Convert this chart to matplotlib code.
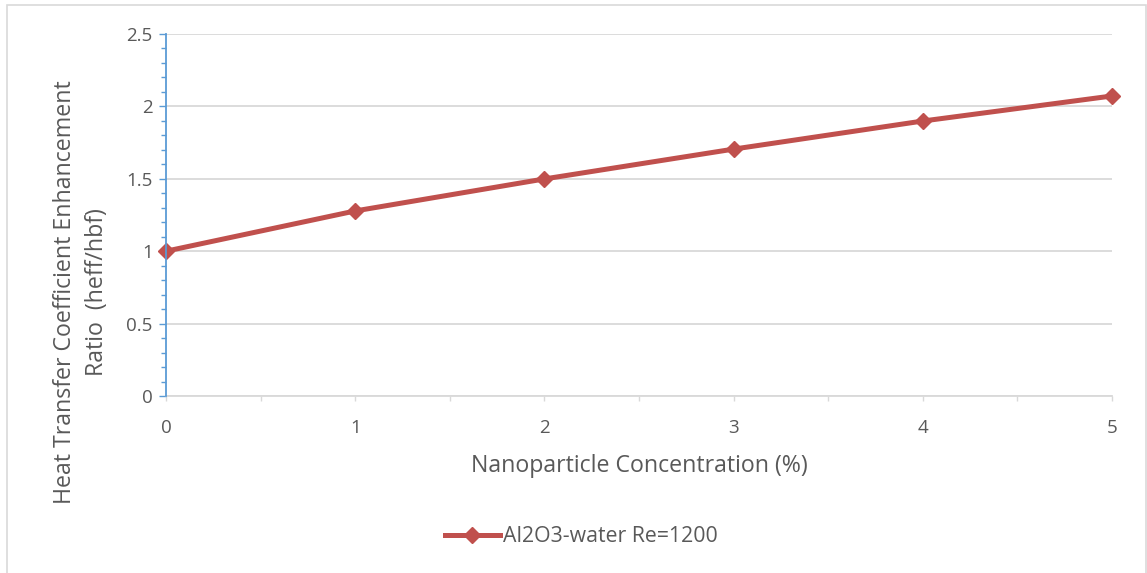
import matplotlib
matplotlib.use("Agg")
import matplotlib.pyplot as plt
from matplotlib.patches import Rectangle
from matplotlib.ticker import MultipleLocator, FuncFormatter

concentration = [0, 1, 2, 3, 4, 5]
ratio = [1.0, 1.278, 1.499, 1.705, 1.899, 2.072]
series_label = "Al2O3-water Re=1200"
xlabel = "Nanoparticle Concentration (%)"
ylabel = "Heat Transfer Coefficient Enhancement\nRatio  (heff/hbf)"

plt.rcParams['font.family'] = ['Open Sans', 'DejaVu Sans']
txt = '#595959'
red = '#C0504D'
blue = '#5B9BD5'
grid = '#D9D9D9'

W, H = 1147, 573
fig = plt.figure(figsize=(W/100, H/100), dpi=100)
fig.patches.append(Rectangle((7/W, -0.1), (1146-7)/W, 1.1 - 5/H,
                             transform=fig.transFigure, fill=False,
                             edgecolor='#D9D9D9', linewidth=1.2))
ax = fig.add_axes([166/W, 1-396/H, (1112-166)/W, (396-34)/H])

ax.plot(concentration, ratio, color=red, linewidth=3.6, marker='D',
        markersize=8, label=series_label, clip_on=False, zorder=5)

ax.set_xlim(0, 5)
ax.set_ylim(0, 2.5)
ax.xaxis.set_major_locator(MultipleLocator(1))
ax.xaxis.set_minor_locator(MultipleLocator(0.5))
ax.yaxis.set_major_locator(MultipleLocator(0.5))
ax.yaxis.set_minor_locator(MultipleLocator(0.1))
ax.yaxis.set_major_formatter(FuncFormatter(lambda v, p: f"{v:g}"))

ax.grid(axis='y', which='major', color=grid, linewidth=1.3)
ax.set_axisbelow(True)
for s in ['top', 'right']:
    ax.spines[s].set_visible(False)
ax.spines['left'].set_color(blue)
ax.spines['left'].set_linewidth(1.3)
ax.spines['bottom'].set_color(grid)
ax.spines['bottom'].set_linewidth(1.3)
ax.spines['left'].set_zorder(6)

ax.tick_params(axis='y', which='major', direction='out', length=5, width=1.0,
               color=blue, labelcolor=txt, labelsize=13.5, pad=4.5)
ax.tick_params(axis='y', which='minor', direction='out', length=3.5, width=1.0,
               color=blue)
ax.tick_params(axis='x', which='both', direction='out', length=3.6, width=1.0,
               color=grid, labelcolor=txt, labelsize=13.5, pad=13)

fig.text(639/W, 1-466/H, xlabel, fontsize=16.7, color=txt, ha='center', va='center')
fig.text(81/W, 1-292/H, ylabel, fontsize=16.7, color=txt, ha='center', va='center',
         rotation=90, multialignment='center', linespacing=1.4)

leg = fig.legend(loc='center', bbox_to_anchor=(581/W, 1-537/H), frameon=False,
                 fontsize=15.3, labelcolor=txt, handlelength=2.6, handletextpad=0.12)
fig.savefig("out.png", dpi=100)
